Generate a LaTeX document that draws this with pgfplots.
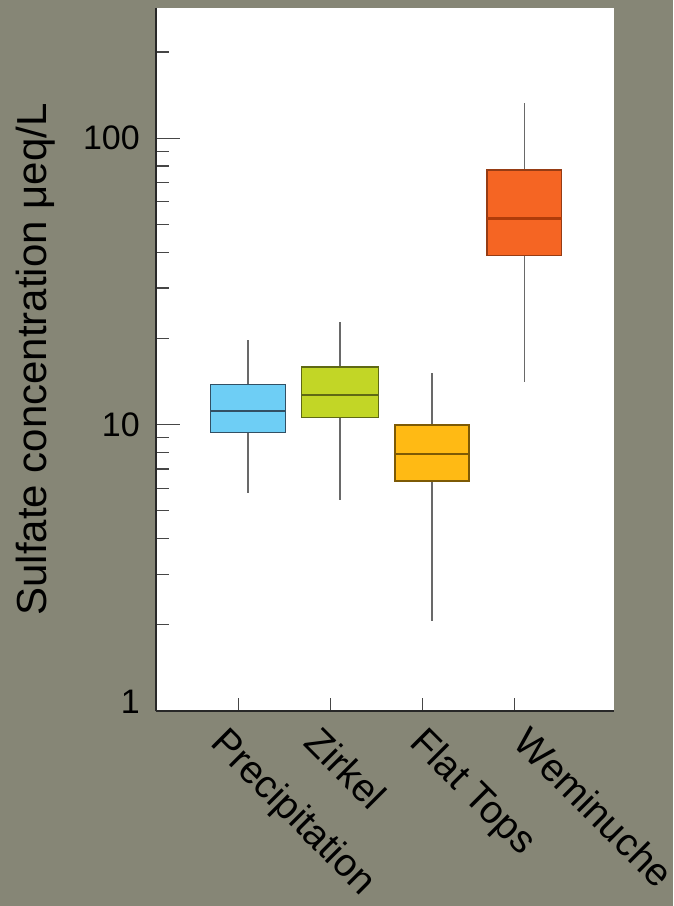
\documentclass[border=0pt]{standalone}
\usepackage{pgfplots}
\pgfplotsset{compat=1.18}
\usepgfplotslibrary{statistics}
\usepackage{fontspec}
\setmainfont{Liberation Sans}
\definecolor{bg}{RGB}{134,134,118}
\definecolor{axcol}{RGB}{40,40,40}
\definecolor{tickcol}{RGB}{70,70,70}
\definecolor{wgray}{RGB}{105,105,105}
\definecolor{cblue}{RGB}{110,206,245}
\definecolor{eblue}{RGB}{50,80,100}
\definecolor{cgreen}{RGB}{194,214,38}
\definecolor{egreen}{RGB}{95,105,20}
\definecolor{cyellow}{RGB}{255,186,20}
\definecolor{eyellow}{RGB}{125,90,5}
\definecolor{corange}{RGB}{245,101,35}
\definecolor{eorange}{RGB}{150,60,20}
\definecolor{morange}{RGB}{175,60,10}
\begin{document}
\begin{tikzpicture}
\path[fill=bg, use as bounding box] (-156pt,-195pt) rectangle (517pt,711pt);
\begin{axis}[
  at={(0pt,0pt)}, anchor=south west,
  scale only axis, width=458pt, height=703pt,
  ymode=log, ymin=1, ymax=285,
  xmin=0.105, xmax=5.084,
  boxplot/draw direction=y,
  axis background/.style={fill=white},
  axis x line*=bottom, axis y line*=left,
  axis line style={-, line width=1.6pt, draw=axcol},
  tick align=inside,
  major tick length=24pt, minor tick length=13pt,
  tick style={line width=1.2pt, draw=tickcol},
  xtick={1,2,3,4}, xticklabels={},
  xtick style={/pgfplots/major tick length=13pt},
  ytick={1,10,100}, yticklabels={\raisebox{-2pt}[0pt][0pt]{1},10,100},
  minor ytick={2,3,4,5,6,7,8,9,20,30,40,50,60,70,80,90,200},
  yticklabel style={font=\fontsize{34}{40}\selectfont, inner sep=0pt, xshift=-16pt},
  ylabel={Sulfate concentration μeq/L},
  every axis y label/.style={at={(axis description cs:0,0.5)}, xshift=-101pt, rotate=90, anchor=south, inner sep=0pt, font=\fontsize{42}{50}\selectfont},
  extra x ticks={1.045,2.062,3.218,4.334},
  extra x tick labels={Precipitation,Zirkel,Flat Tops,Weminuche},
  extra x tick style={xtick style={draw=none}, xticklabel style={rotate=-45, anchor=north west, inner sep=0pt, yshift=-19pt, font=\fontsize{39}{46}\selectfont}},
  clip=false,
]
\addplot[draw=eblue, line width=1.6pt, boxplot prepared={draw position=1.105, lower whisker=5.78, lower quartile=9.38, median=11.2, upper quartile=13.8, upper whisker=19.8, box extend=0.815, whisker extend=0,
  every box/.style={fill=cblue, draw=eblue, line width=1.6pt},
  every median/.style={draw=eblue, line width=2pt},
  every whisker/.style={draw=wgray, line width=1.5pt}}] coordinates {};
\addplot[draw=egreen, line width=1.6pt, boxplot prepared={draw position=2.105, lower whisker=5.45, lower quartile=10.6, median=12.7, upper quartile=15.9, upper whisker=22.8, box extend=0.84, whisker extend=0,
  every box/.style={fill=cgreen, draw=egreen, line width=1.6pt},
  every median/.style={draw=egreen, line width=2pt},
  every whisker/.style={draw=wgray, line width=1.5pt}}] coordinates {};
\addplot[draw=eyellow, line width=1.6pt, boxplot prepared={draw position=3.105, lower whisker=2.06, lower quartile=6.36, median=7.9, upper quartile=9.98, upper whisker=15.2, box extend=0.8, whisker extend=0,
  every box/.style={fill=cyellow, draw=eyellow, line width=1.6pt},
  every median/.style={draw=eyellow, line width=2pt},
  every whisker/.style={draw=wgray, line width=1.5pt}}] coordinates {};
\addplot[draw=eorange, line width=1.6pt, boxplot prepared={draw position=4.11, lower whisker=14.06, lower quartile=39.0, median=52.4, upper quartile=77.3, upper whisker=132.9, box extend=0.81, whisker extend=0,
  every box/.style={fill=corange, draw=eorange, line width=1.6pt},
  every median/.style={draw=morange, line width=2.4pt},
  every whisker/.style={draw=wgray, line width=1.5pt}}] coordinates {};
\end{axis}
\end{tikzpicture}
\end{document}
